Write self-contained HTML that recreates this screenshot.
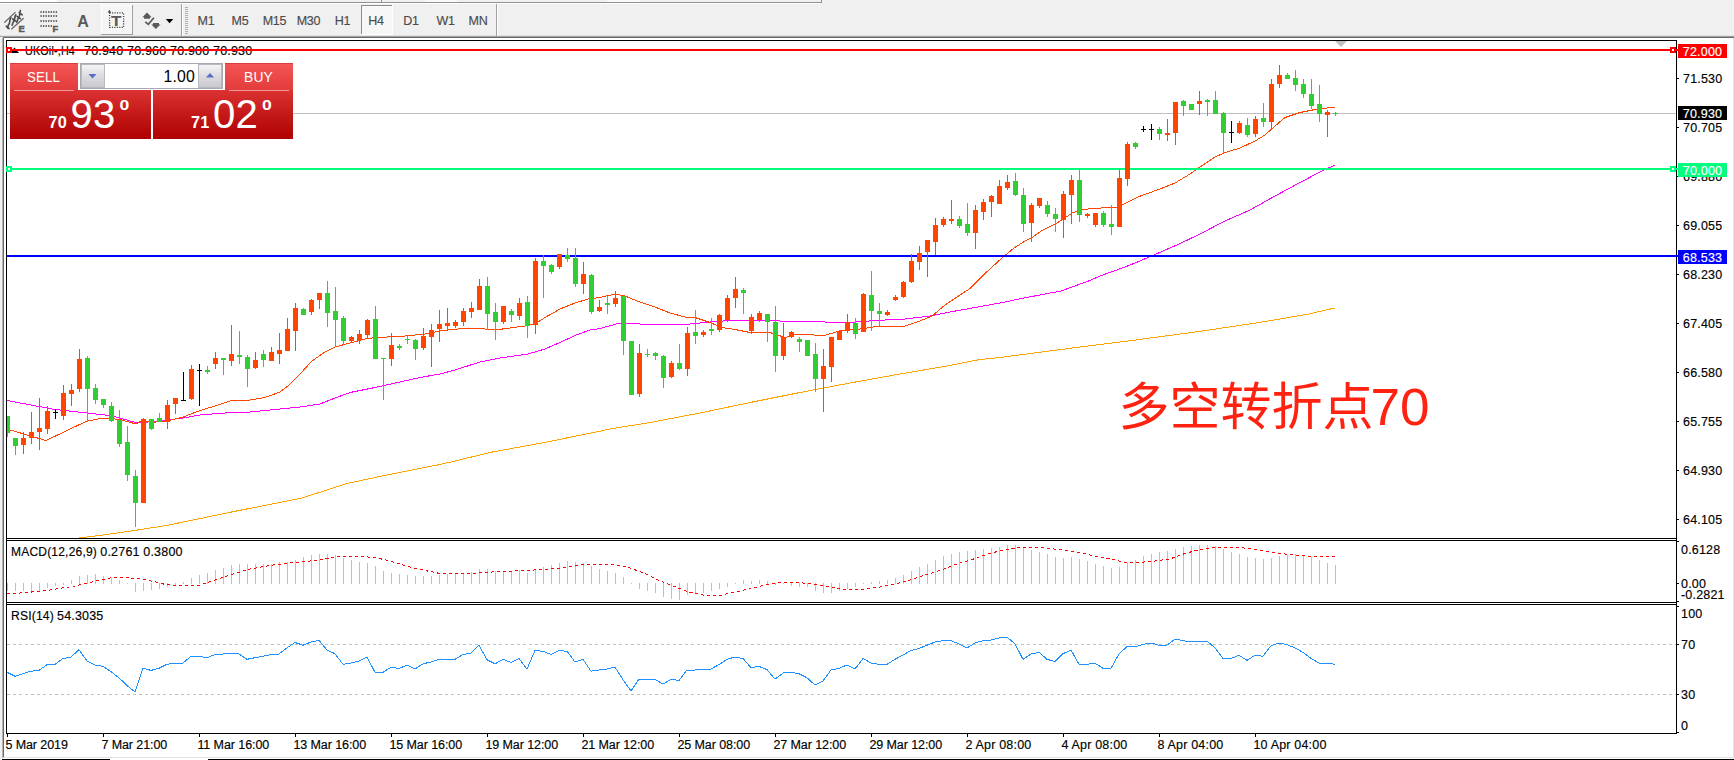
<!DOCTYPE html>
<html lang="zh"><head><meta charset="utf-8"><title>UKOil-,H4</title>
<style>
html,body{margin:0;padding:0;background:#f0f0f0;}
body{width:1734px;height:760px;overflow:hidden;position:relative;}
svg{position:absolute;left:0;top:0;display:block;}
text{font-family:"Liberation Sans","Noto Sans CJK SC",sans-serif;font-size:12.5px;letter-spacing:0.19px;fill:#000;}
.ax,.ct{font-size:12.5px;stroke:#000;stroke-width:0.15px;}
.w{fill:#fff;stroke:#fff;stroke-width:0.15px;}
.tf{fill:#4a4a4a;stroke:#4a4a4a;stroke-width:0.15px;font-size:12.5px;letter-spacing:-0.25px;}
.cn{font-family:"Liberation Sans","Noto Sans CJK SC",sans-serif;font-size:51px;fill:#ff2211;font-weight:400;letter-spacing:0;}
</style></head><body>
<svg width="1734" height="760" viewBox="0 0 1734 760">
<defs>
<linearGradient id="gTab" x1="0" y1="0" x2="0" y2="1"><stop offset="0" stop-color="#f65656"/><stop offset="1" stop-color="#e23a3a"/></linearGradient>
<linearGradient id="gPrc" x1="0" y1="0" x2="0" y2="1"><stop offset="0" stop-color="#dc3232"/><stop offset="1" stop-color="#ae0000"/></linearGradient>
<linearGradient id="gBtn" x1="0" y1="0" x2="0" y2="1"><stop offset="0" stop-color="#f4f4f6"/><stop offset="0.5" stop-color="#dcdce0"/><stop offset="1" stop-color="#c9c9cf"/></linearGradient>
<clipPath id="cm"><rect x="7" y="41" width="1669" height="497"/></clipPath>
</defs>
<g shape-rendering="crispEdges">
<rect x="0" y="0" width="1734" height="760" fill="#f0f0f0"/>
<rect x="0" y="0" width="57" height="2" fill="#ffffff"/>
<rect x="425" y="0" width="32" height="2" fill="#fafafa"/>
<rect x="607" y="0" width="33" height="2" fill="#fafafa"/>
<rect x="0" y="2" width="822" height="1" fill="#909090"/>
<rect x="821" y="0" width="1" height="3" fill="#909090"/>
<rect x="381" y="0" width="1" height="2" fill="#909090"/>
<rect x="0" y="3" width="821" height="1" fill="#ffffff"/>
<rect x="0" y="35" width="1734" height="1" fill="#e3e3e3"/>
<rect x="0" y="36" width="1734" height="1" fill="#a0a0a0"/>
<rect x="3" y="37" width="1731" height="1" fill="#696969"/>
<rect x="4" y="38" width="1729" height="719" fill="#ffffff"/>
<rect x="3" y="37" width="1" height="721" fill="#696969"/>
<rect x="0" y="37" width="3" height="723" fill="#f0f0f0"/>
<rect x="2" y="38" width="1" height="720" fill="#b4b4b4"/>
<rect x="1733" y="38" width="1" height="720" fill="#e3e3e3"/>
<rect x="3" y="757" width="1731" height="1" fill="#e3e3e3"/>
<rect x="3" y="758" width="1731" height="1" fill="#ffffff"/>
<rect x="2" y="759" width="1732" height="1" fill="#000000"/>
<rect x="110" y="759" width="98" height="1" fill="#ffffff"/>
<g stroke="#6a6a6a" stroke-width="1.3" fill="none" shape-rendering="geometricPrecision" stroke-linecap="round"><path d="M4.7 22.3 L15.2 12.4 M11.6 28.9 L23.3 18.4"/></g>
<g stroke="#4a4a4a" stroke-width="1.6" fill="none" shape-rendering="geometricPrecision" stroke-linecap="round"><path d="M10.9 17.6 C9 20.5 10.6 22.5 8.6 24.6 C7.6 25.8 8.4 27 7.8 28.2 M15.8 14.8 C14 17.6 15.4 19.4 13.6 21.6 C12.4 23 13 24 12 25.2 M20.4 10.6 C19.4 13.4 20.4 15.6 18.6 17.8 C17.2 19.6 17.6 20.8 16.6 22.4 M19.2 12.6 L22.2 14.8 M6.2 26.2 L9 28.6 M12.6 19 L15.4 21 M17 16.4 L20.4 18.6"/></g>
<text x="18.6" y="31.8" style="font-size:9.3px;font-weight:bold;fill:#5a5a5a;stroke:#5a5a5a;stroke-width:0.5px">E</text>
<line x1="40.4" y1="12" x2="58" y2="12" stroke="#6a6a6a" stroke-width="2" stroke-dasharray="1.4 1.15" shape-rendering="geometricPrecision"/>
<line x1="40.4" y1="16" x2="58" y2="16" stroke="#6a6a6a" stroke-width="2" stroke-dasharray="1.4 1.15" shape-rendering="geometricPrecision"/>
<line x1="40.4" y1="21" x2="58" y2="21" stroke="#6a6a6a" stroke-width="2" stroke-dasharray="1.4 1.15" shape-rendering="geometricPrecision"/>
<line x1="40.4" y1="26" x2="52.5" y2="26" stroke="#6a6a6a" stroke-width="2" stroke-dasharray="1.4 1.15" shape-rendering="geometricPrecision"/>
<text x="52.6" y="31.8" style="font-size:9.3px;font-weight:bold;fill:#5a5a5a;stroke:#5a5a5a;stroke-width:0.5px">F</text>
<text x="77.3" y="26.6" style="font-size:16px;font-weight:bold;fill:#5a5a5a">A</text>
<rect x="101" y="5" width="32" height="30" fill="#f5f5f5"/>
<rect x="101" y="5" width="32" height="1" fill="#ffffff"/>
<rect x="101" y="5" width="1" height="30" fill="#ffffff"/>
<rect x="101" y="34" width="32" height="1" fill="#a0a0a0"/>
<rect x="132" y="5" width="1" height="30" fill="#a0a0a0"/>
<rect x="109.6" y="12.8" width="14" height="14.6" fill="none" stroke="#3c3c3c" stroke-width="1.3" stroke-dasharray="1.1 1.35" shape-rendering="geometricPrecision"/>
<path d="M107.6 12.6 L109.4 10.1 L111.2 12.6 Z" fill="#3c3c3c" shape-rendering="geometricPrecision"/>
<text transform="translate(111.1 25.6) scale(1.2 1)" x="0" y="0" style="font-size:14.3px;font-weight:bold;fill:#5a5a5a">T</text>
<g fill="#5a5a5a" shape-rendering="geometricPrecision"><path d="M147 12.4 L151.6 17.3 L150 17.3 L150 18.7 L144 18.7 L144 17.3 L142.4 17.3 Z"/><path d="M155.8 29.1 L151.3 24.5 L153 24.5 L153 23.1 L159 23.1 L159 24.5 L160.6 24.5 Z"/><path d="M145.3 21.8 L148.3 24.4 L153.9 17.8" fill="none" stroke="#5a5a5a" stroke-width="1.7"/></g>
<path d="M165.8 19 L173.3 19 L169.55 23.2 Z" fill="#000" shape-rendering="geometricPrecision"/>
<rect x="181" y="4" width="1" height="32" fill="#a0a0a0"/>
<rect x="182" y="4" width="1" height="32" fill="#ffffff"/>
<rect x="185" y="7" width="3" height="1" fill="#b0b0b0"/>
<rect x="185" y="9" width="3" height="1" fill="#b0b0b0"/>
<rect x="185" y="11" width="3" height="1" fill="#b0b0b0"/>
<rect x="185" y="13" width="3" height="1" fill="#b0b0b0"/>
<rect x="185" y="15" width="3" height="1" fill="#b0b0b0"/>
<rect x="185" y="17" width="3" height="1" fill="#b0b0b0"/>
<rect x="185" y="19" width="3" height="1" fill="#b0b0b0"/>
<rect x="185" y="21" width="3" height="1" fill="#b0b0b0"/>
<rect x="185" y="23" width="3" height="1" fill="#b0b0b0"/>
<rect x="185" y="25" width="3" height="1" fill="#b0b0b0"/>
<rect x="185" y="27" width="3" height="1" fill="#b0b0b0"/>
<rect x="185" y="29" width="3" height="1" fill="#b0b0b0"/>
<rect x="185" y="31" width="3" height="1" fill="#b0b0b0"/>
<rect x="185" y="33" width="3" height="1" fill="#b0b0b0"/>
<rect x="361" y="5" width="32" height="30" fill="#f7f7f7"/>
<rect x="361" y="5" width="32" height="1" fill="#8c8c8c"/>
<rect x="361" y="5" width="1" height="29" fill="#8c8c8c"/>
<rect x="361" y="34" width="32" height="1" fill="#ffffff"/>
<rect x="392" y="5" width="1" height="30" fill="#ffffff"/>
<rect x="496" y="4" width="1" height="32" fill="#a0a0a0"/>
<rect x="497" y="4" width="1" height="32" fill="#ffffff"/>
</g>
<text class="tf" x="206" y="25.2" text-anchor="middle">M1</text>
<text class="tf" x="240" y="25.2" text-anchor="middle">M5</text>
<text class="tf" x="274.5" y="25.2" text-anchor="middle">M15</text>
<text class="tf" x="308.5" y="25.2" text-anchor="middle">M30</text>
<text class="tf" x="342.5" y="25.2" text-anchor="middle">H1</text>
<text class="tf" x="376" y="25.2" text-anchor="middle">H4</text>
<text class="tf" x="411" y="25.2" text-anchor="middle">D1</text>
<text class="tf" x="445.5" y="25.2" text-anchor="middle">W1</text>
<text class="tf" x="478" y="25.2" text-anchor="middle">MN</text>
<g shape-rendering="crispEdges">
<rect x="6.5" y="40.5" width="1670" height="498" fill="none" stroke="#000" stroke-width="1"/>
<rect x="6.5" y="540.5" width="1670" height="62" fill="none" stroke="#000" stroke-width="1"/>
<rect x="6.5" y="604.5" width="1670" height="129" fill="none" stroke="#000" stroke-width="1"/>
<rect x="6" y="538" width="1" height="3" fill="#000"/>
<rect x="6" y="602" width="1" height="3" fill="#000"/>
<rect x="1676" y="538" width="1" height="3" fill="#000"/>
<rect x="1676" y="602" width="1" height="3" fill="#000"/>
<rect x="7" y="113" width="1669" height="1" fill="#c0c0c0"/>
</g>
<text class="ct" x="25" y="55" textLength="50" lengthAdjust="spacingAndGlyphs">UKOil-,H4</text>
<text class="ct" x="84" y="55">70.940</text>
<text class="ct" x="127" y="55">70.960</text>
<text class="ct" x="170" y="55">70.900</text>
<text class="ct" x="213" y="55">70.930</text>
<g shape-rendering="crispEdges" clip-path="url(#cm)">
<polyline points="77,538.3 107.5,534.4 135,530.4 167,525.4 233,511.7 302,498 347,483.5 382,476 440.6,464.4 492.5,452 544,442.6 596,432 610,429 650,422.5 700,413 750,402.5 800,392.5 850,383 900,374 950,365.5 980,359.5 1000,357.5 1067.7,348.6 1133.4,340.3 1199,331.5 1265,321.6 1308.7,314 1335,308" fill="none" stroke="#FFA500" stroke-width="1"/>
<polyline points="7,400.5 55,409.5 87,413 110,415.5 125,419.5 137,423 148,422 164,420.3 183,418 200,415 225,413 250,412 275,409.5 300,407 320,404 335,398 350,392.5 375,387.5 400,382 420,377.5 440,374 455,370 480,362 500,358 528,354 545,349 560,342.5 575,335.5 590,330 600,328.5 620,323 640,324 665,324 690,324 710,322 730,320.5 760,320.5 800,321.5 850,322.5 875,320.5 905,319 930,316 950,312 975,307.5 1000,303 1024,298 1061,291 1090,280.5 1100,276 1125,267 1140,261 1178,244.5 1200,234 1225,221 1250,210 1275,196 1300,182.5 1320,172 1335,165" fill="none" stroke="#FF00FF" stroke-width="1"/>
<polyline points="7,429 46,440.5 87,421 104,418 120,419.5 136,424 143,420 151,422.5 167,421 183,417 200,410.5 215,406 230,401 250,400 265,397.5 280,392 288,386 300,374 312,361 325,352 335,347 350,343 365,339 375,337.5 400,336.5 425,334 440,331 450,329.5 475,328 495,330 510,328 525,326 535,324 545,317.5 560,309 575,303 588,299 600,297.5 615,294 625,296 637,301 655,307 670,313 685,317 695,317.5 710,322.5 722,327.5 735,329.5 750,332.5 770,332.5 785,337.5 795,334.5 805,334 822,336 840,331 860,329 880,326 905,326 920,321 932,316 945,305 957,297 970,288.5 985,273.5 1000,259.8 1013.7,248.2 1024.2,241.6 1032,237.6 1041.3,231 1055.8,223.8 1072.9,212.6 1082.1,210 1091.3,208.4 1116.3,207.4 1121.6,205.4 1140,196.2 1160,189 1175,183 1190,174 1200,167 1215,157 1225,152.5 1240,148 1255,141 1265,135 1275,126 1285,117.5 1300,112.5 1315,109.5 1335,107" fill="none" stroke="#FF4500" stroke-width="1"/>
</g>
<g shape-rendering="crispEdges">
<path d="M10 53 L14.5 47.6 L19 53 Z" fill="#000" shape-rendering="geometricPrecision"/>
<rect x="7" y="49" width="1671" height="2" fill="#FF0000"/>
<rect x="6" y="47" width="6" height="6" fill="#FF0000"/>
<rect x="8" y="49" width="2" height="2" fill="#ffffff"/>
<rect x="1670" y="47" width="6" height="6" fill="#FF0000"/>
<rect x="1672" y="49" width="2" height="2" fill="#ffffff"/>
<rect x="7" y="168" width="1671" height="2" fill="#00FF7F"/>
<rect x="6" y="166" width="6" height="6" fill="#00FF7F"/>
<rect x="8" y="168" width="2" height="2" fill="#ffffff"/>
<rect x="1670" y="166" width="6" height="6" fill="#00FF7F"/>
<rect x="1672" y="168" width="2" height="2" fill="#ffffff"/>
<rect x="7" y="255" width="1671" height="2" fill="#0000FF"/>
<g shape-rendering="crispEdges" clip-path="url(#cm)">
<rect x="7" y="416" width="1" height="21" fill="#32CD32"/>
<rect x="5" y="416" width="5" height="17" fill="#32CD32"/>
<rect x="15" y="438" width="1" height="17" fill="#32CD32"/>
<rect x="13" y="438" width="5" height="8" fill="#32CD32"/>
<rect x="23" y="432" width="1" height="22" fill="#FF4500"/>
<rect x="21" y="438" width="5" height="7" fill="#FF4500"/>
<rect x="31" y="412" width="1" height="32" fill="#FF4500"/>
<rect x="29" y="432" width="5" height="6" fill="#FF4500"/>
<rect x="39" y="398" width="1" height="52" fill="#FF4500"/>
<rect x="37" y="428" width="5" height="4" fill="#FF4500"/>
<rect x="47" y="406" width="1" height="28" fill="#FF4500"/>
<rect x="45" y="411" width="5" height="18" fill="#FF4500"/>
<rect x="55" y="409" width="1" height="10" fill="#000000"/>
<rect x="53" y="412" width="5" height="1" fill="#000000"/>
<rect x="63" y="385" width="1" height="35" fill="#FF4500"/>
<rect x="61" y="393" width="5" height="23" fill="#FF4500"/>
<rect x="71" y="384" width="1" height="22" fill="#FF4500"/>
<rect x="69" y="390" width="5" height="4" fill="#FF4500"/>
<rect x="79" y="349" width="1" height="43" fill="#FF4500"/>
<rect x="77" y="359" width="5" height="30" fill="#FF4500"/>
<rect x="87" y="356" width="1" height="66" fill="#32CD32"/>
<rect x="85" y="358" width="5" height="31" fill="#32CD32"/>
<rect x="95" y="384" width="1" height="20" fill="#32CD32"/>
<rect x="93" y="388" width="5" height="12" fill="#32CD32"/>
<rect x="103" y="399" width="1" height="9" fill="#32CD32"/>
<rect x="101" y="399" width="5" height="6" fill="#32CD32"/>
<rect x="111" y="402" width="1" height="20" fill="#32CD32"/>
<rect x="109" y="406" width="5" height="15" fill="#32CD32"/>
<rect x="119" y="410" width="1" height="37" fill="#32CD32"/>
<rect x="117" y="420" width="5" height="24" fill="#32CD32"/>
<rect x="127" y="426" width="1" height="55" fill="#32CD32"/>
<rect x="125" y="442" width="5" height="33" fill="#32CD32"/>
<rect x="135" y="470" width="1" height="57" fill="#32CD32"/>
<rect x="133" y="476" width="5" height="27" fill="#32CD32"/>
<rect x="143" y="418" width="1" height="85" fill="#FF4500"/>
<rect x="141" y="419" width="5" height="84" fill="#FF4500"/>
<rect x="151" y="419" width="1" height="11" fill="#32CD32"/>
<rect x="149" y="419" width="5" height="10" fill="#32CD32"/>
<rect x="159" y="413" width="1" height="9" fill="#32CD32"/>
<rect x="157" y="418" width="5" height="4" fill="#32CD32"/>
<rect x="167" y="400" width="1" height="29" fill="#FF4500"/>
<rect x="165" y="405" width="5" height="17" fill="#FF4500"/>
<rect x="175" y="398" width="1" height="16" fill="#FF4500"/>
<rect x="173" y="398" width="5" height="6" fill="#FF4500"/>
<rect x="183" y="372" width="1" height="28" fill="#000000"/>
<rect x="181" y="400" width="5" height="1" fill="#000000"/>
<rect x="191" y="365" width="1" height="35" fill="#FF4500"/>
<rect x="189" y="369" width="5" height="30" fill="#FF4500"/>
<rect x="199" y="364" width="1" height="42" fill="#000000"/>
<rect x="197" y="370" width="5" height="1" fill="#000000"/>
<rect x="207" y="366" width="1" height="8" fill="#32CD32"/>
<rect x="205" y="370" width="5" height="2" fill="#32CD32"/>
<rect x="215" y="352" width="1" height="17" fill="#FF4500"/>
<rect x="213" y="358" width="5" height="6" fill="#FF4500"/>
<rect x="223" y="358" width="1" height="17" fill="#32CD32"/>
<rect x="221" y="358" width="5" height="2" fill="#32CD32"/>
<rect x="231" y="325" width="1" height="41" fill="#FF4500"/>
<rect x="229" y="354" width="5" height="7" fill="#FF4500"/>
<rect x="239" y="331" width="1" height="33" fill="#32CD32"/>
<rect x="237" y="355" width="5" height="2" fill="#32CD32"/>
<rect x="247" y="355" width="1" height="32" fill="#32CD32"/>
<rect x="245" y="357" width="5" height="12" fill="#32CD32"/>
<rect x="255" y="352" width="1" height="17" fill="#FF4500"/>
<rect x="253" y="360" width="5" height="8" fill="#FF4500"/>
<rect x="263" y="350" width="1" height="17" fill="#32CD32"/>
<rect x="261" y="354" width="5" height="6" fill="#32CD32"/>
<rect x="271" y="347" width="1" height="14" fill="#FF4500"/>
<rect x="269" y="352" width="5" height="9" fill="#FF4500"/>
<rect x="279" y="333" width="1" height="31" fill="#FF4500"/>
<rect x="277" y="350" width="5" height="4" fill="#FF4500"/>
<rect x="287" y="318" width="1" height="33" fill="#FF4500"/>
<rect x="285" y="329" width="5" height="22" fill="#FF4500"/>
<rect x="295" y="303" width="1" height="48" fill="#FF4500"/>
<rect x="293" y="308" width="5" height="23" fill="#FF4500"/>
<rect x="303" y="308" width="1" height="7" fill="#32CD32"/>
<rect x="301" y="309" width="5" height="6" fill="#32CD32"/>
<rect x="311" y="299" width="1" height="16" fill="#FF4500"/>
<rect x="309" y="300" width="5" height="12" fill="#FF4500"/>
<rect x="319" y="293" width="1" height="16" fill="#FF4500"/>
<rect x="317" y="293" width="5" height="7" fill="#FF4500"/>
<rect x="327" y="281" width="1" height="46" fill="#32CD32"/>
<rect x="325" y="293" width="5" height="20" fill="#32CD32"/>
<rect x="335" y="287" width="1" height="60" fill="#32CD32"/>
<rect x="333" y="311" width="5" height="9" fill="#32CD32"/>
<rect x="343" y="316" width="1" height="29" fill="#32CD32"/>
<rect x="341" y="318" width="5" height="23" fill="#32CD32"/>
<rect x="351" y="336" width="1" height="6" fill="#FF4500"/>
<rect x="349" y="337" width="5" height="4" fill="#FF4500"/>
<rect x="359" y="330" width="1" height="14" fill="#FF4500"/>
<rect x="357" y="334" width="5" height="6" fill="#FF4500"/>
<rect x="367" y="319" width="1" height="19" fill="#FF4500"/>
<rect x="365" y="320" width="5" height="15" fill="#FF4500"/>
<rect x="375" y="306" width="1" height="53" fill="#32CD32"/>
<rect x="373" y="319" width="5" height="40" fill="#32CD32"/>
<rect x="383" y="358" width="1" height="42" fill="#32CD32"/>
<rect x="381" y="358" width="5" height="1" fill="#32CD32"/>
<rect x="391" y="333" width="1" height="33" fill="#FF4500"/>
<rect x="389" y="345" width="5" height="14" fill="#FF4500"/>
<rect x="399" y="344" width="1" height="6" fill="#32CD32"/>
<rect x="397" y="346" width="5" height="2" fill="#32CD32"/>
<rect x="407" y="336" width="1" height="8" fill="#32CD32"/>
<rect x="405" y="339" width="5" height="1" fill="#32CD32"/>
<rect x="415" y="339" width="1" height="21" fill="#32CD32"/>
<rect x="413" y="340" width="5" height="9" fill="#32CD32"/>
<rect x="423" y="328" width="1" height="22" fill="#FF4500"/>
<rect x="421" y="336" width="5" height="12" fill="#FF4500"/>
<rect x="431" y="324" width="1" height="43" fill="#FF4500"/>
<rect x="429" y="330" width="5" height="7" fill="#FF4500"/>
<rect x="439" y="310" width="1" height="32" fill="#FF4500"/>
<rect x="437" y="324" width="5" height="5" fill="#FF4500"/>
<rect x="447" y="308" width="1" height="23" fill="#FF4500"/>
<rect x="445" y="323" width="5" height="3" fill="#FF4500"/>
<rect x="455" y="320" width="1" height="8" fill="#FF4500"/>
<rect x="453" y="322" width="5" height="4" fill="#FF4500"/>
<rect x="463" y="308" width="1" height="18" fill="#FF4500"/>
<rect x="461" y="311" width="5" height="11" fill="#FF4500"/>
<rect x="471" y="302" width="1" height="16" fill="#FF4500"/>
<rect x="469" y="308" width="5" height="4" fill="#FF4500"/>
<rect x="479" y="279" width="1" height="31" fill="#FF4500"/>
<rect x="477" y="286" width="5" height="24" fill="#FF4500"/>
<rect x="487" y="277" width="1" height="53" fill="#32CD32"/>
<rect x="485" y="286" width="5" height="28" fill="#32CD32"/>
<rect x="495" y="303" width="1" height="37" fill="#32CD32"/>
<rect x="493" y="312" width="5" height="10" fill="#32CD32"/>
<rect x="503" y="306" width="1" height="18" fill="#FF4500"/>
<rect x="501" y="306" width="5" height="16" fill="#FF4500"/>
<rect x="511" y="309" width="1" height="13" fill="#32CD32"/>
<rect x="509" y="311" width="5" height="4" fill="#32CD32"/>
<rect x="519" y="298" width="1" height="22" fill="#FF4500"/>
<rect x="517" y="303" width="5" height="13" fill="#FF4500"/>
<rect x="527" y="296" width="1" height="42" fill="#32CD32"/>
<rect x="525" y="302" width="5" height="24" fill="#32CD32"/>
<rect x="535" y="258" width="1" height="76" fill="#FF4500"/>
<rect x="533" y="261" width="5" height="64" fill="#FF4500"/>
<rect x="543" y="255" width="1" height="43" fill="#32CD32"/>
<rect x="541" y="261" width="5" height="5" fill="#32CD32"/>
<rect x="551" y="264" width="1" height="10" fill="#32CD32"/>
<rect x="549" y="265" width="5" height="7" fill="#32CD32"/>
<rect x="559" y="254" width="1" height="15" fill="#FF4500"/>
<rect x="557" y="254" width="5" height="13" fill="#FF4500"/>
<rect x="567" y="248" width="1" height="14" fill="#32CD32"/>
<rect x="565" y="255" width="5" height="4" fill="#32CD32"/>
<rect x="575" y="248" width="1" height="39" fill="#32CD32"/>
<rect x="573" y="258" width="5" height="26" fill="#32CD32"/>
<rect x="583" y="262" width="1" height="32" fill="#FF4500"/>
<rect x="581" y="274" width="5" height="10" fill="#FF4500"/>
<rect x="591" y="274" width="1" height="40" fill="#32CD32"/>
<rect x="589" y="275" width="5" height="37" fill="#32CD32"/>
<rect x="599" y="300" width="1" height="12" fill="#FF4500"/>
<rect x="597" y="307" width="5" height="4" fill="#FF4500"/>
<rect x="607" y="296" width="1" height="18" fill="#32CD32"/>
<rect x="605" y="303" width="5" height="2" fill="#32CD32"/>
<rect x="615" y="291" width="1" height="16" fill="#FF4500"/>
<rect x="613" y="298" width="5" height="6" fill="#FF4500"/>
<rect x="623" y="296" width="1" height="59" fill="#32CD32"/>
<rect x="621" y="296" width="5" height="45" fill="#32CD32"/>
<rect x="631" y="341" width="1" height="54" fill="#32CD32"/>
<rect x="629" y="341" width="5" height="54" fill="#32CD32"/>
<rect x="639" y="344" width="1" height="53" fill="#FF4500"/>
<rect x="637" y="353" width="5" height="41" fill="#FF4500"/>
<rect x="647" y="349" width="1" height="8" fill="#32CD32"/>
<rect x="645" y="354" width="5" height="1" fill="#32CD32"/>
<rect x="655" y="352" width="1" height="8" fill="#32CD32"/>
<rect x="653" y="353" width="5" height="3" fill="#32CD32"/>
<rect x="663" y="355" width="1" height="33" fill="#32CD32"/>
<rect x="661" y="356" width="5" height="22" fill="#32CD32"/>
<rect x="671" y="361" width="1" height="17" fill="#FF4500"/>
<rect x="669" y="363" width="5" height="14" fill="#FF4500"/>
<rect x="679" y="344" width="1" height="26" fill="#32CD32"/>
<rect x="677" y="363" width="5" height="6" fill="#32CD32"/>
<rect x="687" y="327" width="1" height="49" fill="#FF4500"/>
<rect x="685" y="333" width="5" height="36" fill="#FF4500"/>
<rect x="695" y="310" width="1" height="34" fill="#32CD32"/>
<rect x="693" y="332" width="5" height="4" fill="#32CD32"/>
<rect x="703" y="330" width="1" height="7" fill="#FF4500"/>
<rect x="701" y="332" width="5" height="3" fill="#FF4500"/>
<rect x="711" y="318" width="1" height="17" fill="#32CD32"/>
<rect x="709" y="329" width="5" height="2" fill="#32CD32"/>
<rect x="719" y="314" width="1" height="18" fill="#FF4500"/>
<rect x="717" y="315" width="5" height="15" fill="#FF4500"/>
<rect x="727" y="295" width="1" height="27" fill="#FF4500"/>
<rect x="725" y="298" width="5" height="22" fill="#FF4500"/>
<rect x="735" y="277" width="1" height="31" fill="#FF4500"/>
<rect x="733" y="289" width="5" height="9" fill="#FF4500"/>
<rect x="743" y="288" width="1" height="26" fill="#32CD32"/>
<rect x="741" y="290" width="5" height="3" fill="#32CD32"/>
<rect x="751" y="314" width="1" height="20" fill="#FF4500"/>
<rect x="749" y="317" width="5" height="14" fill="#FF4500"/>
<rect x="759" y="311" width="1" height="11" fill="#FF4500"/>
<rect x="757" y="313" width="5" height="7" fill="#FF4500"/>
<rect x="767" y="314" width="1" height="28" fill="#32CD32"/>
<rect x="765" y="314" width="5" height="8" fill="#32CD32"/>
<rect x="775" y="306" width="1" height="66" fill="#32CD32"/>
<rect x="773" y="322" width="5" height="34" fill="#32CD32"/>
<rect x="783" y="323" width="1" height="37" fill="#FF4500"/>
<rect x="781" y="337" width="5" height="19" fill="#FF4500"/>
<rect x="791" y="331" width="1" height="7" fill="#FF4500"/>
<rect x="789" y="332" width="5" height="5" fill="#FF4500"/>
<rect x="799" y="337" width="1" height="15" fill="#32CD32"/>
<rect x="797" y="339" width="5" height="3" fill="#32CD32"/>
<rect x="807" y="340" width="1" height="16" fill="#32CD32"/>
<rect x="805" y="340" width="5" height="16" fill="#32CD32"/>
<rect x="815" y="343" width="1" height="49" fill="#32CD32"/>
<rect x="813" y="354" width="5" height="25" fill="#32CD32"/>
<rect x="823" y="349" width="1" height="63" fill="#FF4500"/>
<rect x="821" y="366" width="5" height="13" fill="#FF4500"/>
<rect x="831" y="337" width="1" height="45" fill="#FF4500"/>
<rect x="829" y="337" width="5" height="30" fill="#FF4500"/>
<rect x="839" y="330" width="1" height="10" fill="#FF4500"/>
<rect x="837" y="331" width="5" height="9" fill="#FF4500"/>
<rect x="847" y="314" width="1" height="19" fill="#FF4500"/>
<rect x="845" y="322" width="5" height="9" fill="#FF4500"/>
<rect x="855" y="318" width="1" height="21" fill="#32CD32"/>
<rect x="853" y="323" width="5" height="11" fill="#32CD32"/>
<rect x="863" y="293" width="1" height="39" fill="#FF4500"/>
<rect x="861" y="294" width="5" height="38" fill="#FF4500"/>
<rect x="871" y="271" width="1" height="60" fill="#32CD32"/>
<rect x="869" y="295" width="5" height="16" fill="#32CD32"/>
<rect x="879" y="303" width="1" height="23" fill="#32CD32"/>
<rect x="877" y="311" width="5" height="3" fill="#32CD32"/>
<rect x="887" y="310" width="1" height="6" fill="#FF4500"/>
<rect x="885" y="312" width="5" height="3" fill="#FF4500"/>
<rect x="895" y="295" width="1" height="6" fill="#FF4500"/>
<rect x="893" y="297" width="5" height="3" fill="#FF4500"/>
<rect x="903" y="281" width="1" height="17" fill="#FF4500"/>
<rect x="901" y="282" width="5" height="15" fill="#FF4500"/>
<rect x="911" y="254" width="1" height="29" fill="#FF4500"/>
<rect x="909" y="261" width="5" height="21" fill="#FF4500"/>
<rect x="919" y="246" width="1" height="24" fill="#FF4500"/>
<rect x="917" y="253" width="5" height="9" fill="#FF4500"/>
<rect x="927" y="240" width="1" height="37" fill="#FF4500"/>
<rect x="925" y="240" width="5" height="12" fill="#FF4500"/>
<rect x="935" y="218" width="1" height="37" fill="#FF4500"/>
<rect x="933" y="225" width="5" height="17" fill="#FF4500"/>
<rect x="943" y="217" width="1" height="10" fill="#FF4500"/>
<rect x="941" y="219" width="5" height="6" fill="#FF4500"/>
<rect x="951" y="200" width="1" height="24" fill="#FF4500"/>
<rect x="949" y="219" width="5" height="2" fill="#FF4500"/>
<rect x="959" y="216" width="1" height="12" fill="#32CD32"/>
<rect x="957" y="219" width="5" height="7" fill="#32CD32"/>
<rect x="967" y="203" width="1" height="33" fill="#32CD32"/>
<rect x="965" y="224" width="5" height="9" fill="#32CD32"/>
<rect x="975" y="205" width="1" height="44" fill="#FF4500"/>
<rect x="973" y="210" width="5" height="23" fill="#FF4500"/>
<rect x="983" y="199" width="1" height="21" fill="#FF4500"/>
<rect x="981" y="202" width="5" height="10" fill="#FF4500"/>
<rect x="991" y="195" width="1" height="22" fill="#FF4500"/>
<rect x="989" y="196" width="5" height="6" fill="#FF4500"/>
<rect x="999" y="180" width="1" height="24" fill="#FF4500"/>
<rect x="997" y="186" width="5" height="18" fill="#FF4500"/>
<rect x="1007" y="175" width="1" height="15" fill="#FF4500"/>
<rect x="1005" y="182" width="5" height="6" fill="#FF4500"/>
<rect x="1015" y="173" width="1" height="23" fill="#32CD32"/>
<rect x="1013" y="181" width="5" height="14" fill="#32CD32"/>
<rect x="1023" y="188" width="1" height="44" fill="#32CD32"/>
<rect x="1021" y="195" width="5" height="29" fill="#32CD32"/>
<rect x="1031" y="203" width="1" height="39" fill="#FF4500"/>
<rect x="1029" y="205" width="5" height="18" fill="#FF4500"/>
<rect x="1039" y="198" width="1" height="10" fill="#FF4500"/>
<rect x="1037" y="198" width="5" height="8" fill="#FF4500"/>
<rect x="1047" y="201" width="1" height="16" fill="#32CD32"/>
<rect x="1045" y="205" width="5" height="9" fill="#32CD32"/>
<rect x="1055" y="208" width="1" height="24" fill="#32CD32"/>
<rect x="1053" y="214" width="5" height="5" fill="#32CD32"/>
<rect x="1063" y="191" width="1" height="47" fill="#FF4500"/>
<rect x="1061" y="194" width="5" height="26" fill="#FF4500"/>
<rect x="1071" y="175" width="1" height="49" fill="#FF4500"/>
<rect x="1069" y="180" width="5" height="15" fill="#FF4500"/>
<rect x="1079" y="170" width="1" height="52" fill="#32CD32"/>
<rect x="1077" y="180" width="5" height="35" fill="#32CD32"/>
<rect x="1087" y="213" width="1" height="5" fill="#FF4500"/>
<rect x="1085" y="214" width="5" height="2" fill="#FF4500"/>
<rect x="1095" y="213" width="1" height="14" fill="#FF4500"/>
<rect x="1093" y="213" width="5" height="12" fill="#FF4500"/>
<rect x="1103" y="211" width="1" height="16" fill="#32CD32"/>
<rect x="1101" y="213" width="5" height="12" fill="#32CD32"/>
<rect x="1111" y="205" width="1" height="30" fill="#32CD32"/>
<rect x="1109" y="224" width="5" height="3" fill="#32CD32"/>
<rect x="1119" y="170" width="1" height="57" fill="#FF4500"/>
<rect x="1117" y="178" width="5" height="49" fill="#FF4500"/>
<rect x="1127" y="142" width="1" height="44" fill="#FF4500"/>
<rect x="1125" y="144" width="5" height="35" fill="#FF4500"/>
<rect x="1135" y="142" width="1" height="7" fill="#32CD32"/>
<rect x="1133" y="143" width="5" height="4" fill="#32CD32"/>
<rect x="1143" y="126" width="1" height="6" fill="#000000"/>
<rect x="1141" y="129" width="5" height="1" fill="#000000"/>
<rect x="1151" y="124" width="1" height="16" fill="#000000"/>
<rect x="1149" y="129" width="5" height="1" fill="#000000"/>
<rect x="1159" y="127" width="1" height="13" fill="#32CD32"/>
<rect x="1157" y="129" width="5" height="5" fill="#32CD32"/>
<rect x="1167" y="119" width="1" height="22" fill="#FF4500"/>
<rect x="1165" y="133" width="5" height="2" fill="#FF4500"/>
<rect x="1175" y="102" width="1" height="43" fill="#FF4500"/>
<rect x="1173" y="102" width="5" height="31" fill="#FF4500"/>
<rect x="1183" y="100" width="1" height="16" fill="#32CD32"/>
<rect x="1181" y="101" width="5" height="5" fill="#32CD32"/>
<rect x="1191" y="104" width="1" height="6" fill="#32CD32"/>
<rect x="1189" y="104" width="5" height="6" fill="#32CD32"/>
<rect x="1199" y="91" width="1" height="24" fill="#FF4500"/>
<rect x="1197" y="101" width="5" height="3" fill="#FF4500"/>
<rect x="1207" y="99" width="1" height="17" fill="#32CD32"/>
<rect x="1205" y="100" width="5" height="2" fill="#32CD32"/>
<rect x="1215" y="91" width="1" height="23" fill="#32CD32"/>
<rect x="1213" y="100" width="5" height="14" fill="#32CD32"/>
<rect x="1223" y="112" width="1" height="41" fill="#32CD32"/>
<rect x="1221" y="113" width="5" height="20" fill="#32CD32"/>
<rect x="1231" y="121" width="1" height="22" fill="#000000"/>
<rect x="1229" y="132" width="5" height="1" fill="#000000"/>
<rect x="1239" y="121" width="1" height="13" fill="#FF4500"/>
<rect x="1237" y="123" width="5" height="10" fill="#FF4500"/>
<rect x="1247" y="118" width="1" height="19" fill="#32CD32"/>
<rect x="1245" y="125" width="5" height="10" fill="#32CD32"/>
<rect x="1255" y="116" width="1" height="21" fill="#FF4500"/>
<rect x="1253" y="119" width="5" height="15" fill="#FF4500"/>
<rect x="1263" y="103" width="1" height="24" fill="#32CD32"/>
<rect x="1261" y="118" width="5" height="4" fill="#32CD32"/>
<rect x="1271" y="79" width="1" height="50" fill="#FF4500"/>
<rect x="1269" y="84" width="5" height="38" fill="#FF4500"/>
<rect x="1279" y="65" width="1" height="23" fill="#FF4500"/>
<rect x="1277" y="75" width="5" height="9" fill="#FF4500"/>
<rect x="1287" y="73" width="1" height="6" fill="#32CD32"/>
<rect x="1285" y="75" width="5" height="4" fill="#32CD32"/>
<rect x="1295" y="70" width="1" height="21" fill="#32CD32"/>
<rect x="1293" y="78" width="5" height="7" fill="#32CD32"/>
<rect x="1303" y="79" width="1" height="19" fill="#32CD32"/>
<rect x="1301" y="84" width="5" height="10" fill="#32CD32"/>
<rect x="1311" y="79" width="1" height="30" fill="#32CD32"/>
<rect x="1309" y="94" width="5" height="12" fill="#32CD32"/>
<rect x="1319" y="85" width="1" height="37" fill="#32CD32"/>
<rect x="1317" y="104" width="5" height="10" fill="#32CD32"/>
<rect x="1327" y="110" width="1" height="27" fill="#FF4500"/>
<rect x="1325" y="112" width="5" height="3" fill="#FF4500"/>
<rect x="1335" y="112" width="1" height="4" fill="#32CD32"/>
<rect x="1333" y="113" width="5" height="1" fill="#32CD32"/>
</g>
<path d="M1335 41 L1347 41 L1341 47 Z" fill="#c0c0c0" shape-rendering="geometricPrecision"/>
<rect x="7" y="583" width="1" height="8" fill="#C0C0C0"/>
<rect x="15" y="583" width="1" height="8" fill="#C0C0C0"/>
<rect x="23" y="583" width="1" height="8" fill="#C0C0C0"/>
<rect x="31" y="583" width="1" height="8" fill="#C0C0C0"/>
<rect x="39" y="583" width="1" height="8" fill="#C0C0C0"/>
<rect x="47" y="583" width="1" height="5" fill="#C0C0C0"/>
<rect x="55" y="583" width="1" height="3" fill="#C0C0C0"/>
<rect x="63" y="583" width="1" height="2" fill="#C0C0C0"/>
<rect x="71" y="580" width="1" height="4" fill="#C0C0C0"/>
<rect x="79" y="576" width="1" height="8" fill="#C0C0C0"/>
<rect x="87" y="575" width="1" height="9" fill="#C0C0C0"/>
<rect x="95" y="574" width="1" height="10" fill="#C0C0C0"/>
<rect x="103" y="576" width="1" height="8" fill="#C0C0C0"/>
<rect x="111" y="578" width="1" height="6" fill="#C0C0C0"/>
<rect x="119" y="580" width="1" height="4" fill="#C0C0C0"/>
<rect x="127" y="583" width="1" height="1" fill="#C0C0C0"/>
<rect x="135" y="583" width="1" height="9" fill="#C0C0C0"/>
<rect x="143" y="583" width="1" height="8" fill="#C0C0C0"/>
<rect x="151" y="583" width="1" height="7" fill="#C0C0C0"/>
<rect x="159" y="583" width="1" height="6" fill="#C0C0C0"/>
<rect x="167" y="583" width="1" height="4" fill="#C0C0C0"/>
<rect x="175" y="583" width="1" height="2" fill="#C0C0C0"/>
<rect x="183" y="582" width="1" height="2" fill="#C0C0C0"/>
<rect x="191" y="578" width="1" height="6" fill="#C0C0C0"/>
<rect x="199" y="575" width="1" height="9" fill="#C0C0C0"/>
<rect x="207" y="573" width="1" height="11" fill="#C0C0C0"/>
<rect x="215" y="570" width="1" height="14" fill="#C0C0C0"/>
<rect x="223" y="568" width="1" height="16" fill="#C0C0C0"/>
<rect x="231" y="565" width="1" height="19" fill="#C0C0C0"/>
<rect x="239" y="564" width="1" height="20" fill="#C0C0C0"/>
<rect x="247" y="564" width="1" height="20" fill="#C0C0C0"/>
<rect x="255" y="564" width="1" height="20" fill="#C0C0C0"/>
<rect x="263" y="564" width="1" height="20" fill="#C0C0C0"/>
<rect x="271" y="564" width="1" height="20" fill="#C0C0C0"/>
<rect x="279" y="562" width="1" height="22" fill="#C0C0C0"/>
<rect x="287" y="562" width="1" height="22" fill="#C0C0C0"/>
<rect x="295" y="560" width="1" height="24" fill="#C0C0C0"/>
<rect x="303" y="557" width="1" height="27" fill="#C0C0C0"/>
<rect x="311" y="555" width="1" height="29" fill="#C0C0C0"/>
<rect x="319" y="554" width="1" height="30" fill="#C0C0C0"/>
<rect x="327" y="554" width="1" height="30" fill="#C0C0C0"/>
<rect x="335" y="555" width="1" height="29" fill="#C0C0C0"/>
<rect x="343" y="558" width="1" height="26" fill="#C0C0C0"/>
<rect x="351" y="560" width="1" height="24" fill="#C0C0C0"/>
<rect x="359" y="562" width="1" height="22" fill="#C0C0C0"/>
<rect x="367" y="563" width="1" height="21" fill="#C0C0C0"/>
<rect x="375" y="566" width="1" height="18" fill="#C0C0C0"/>
<rect x="383" y="571" width="1" height="13" fill="#C0C0C0"/>
<rect x="391" y="573" width="1" height="11" fill="#C0C0C0"/>
<rect x="399" y="574" width="1" height="10" fill="#C0C0C0"/>
<rect x="407" y="575" width="1" height="9" fill="#C0C0C0"/>
<rect x="415" y="576" width="1" height="8" fill="#C0C0C0"/>
<rect x="423" y="576" width="1" height="8" fill="#C0C0C0"/>
<rect x="431" y="576" width="1" height="8" fill="#C0C0C0"/>
<rect x="439" y="575" width="1" height="9" fill="#C0C0C0"/>
<rect x="447" y="574" width="1" height="10" fill="#C0C0C0"/>
<rect x="455" y="574" width="1" height="10" fill="#C0C0C0"/>
<rect x="463" y="574" width="1" height="10" fill="#C0C0C0"/>
<rect x="471" y="572" width="1" height="12" fill="#C0C0C0"/>
<rect x="479" y="569" width="1" height="15" fill="#C0C0C0"/>
<rect x="487" y="569" width="1" height="15" fill="#C0C0C0"/>
<rect x="495" y="571" width="1" height="13" fill="#C0C0C0"/>
<rect x="503" y="571" width="1" height="13" fill="#C0C0C0"/>
<rect x="511" y="572" width="1" height="12" fill="#C0C0C0"/>
<rect x="519" y="570" width="1" height="14" fill="#C0C0C0"/>
<rect x="527" y="573" width="1" height="11" fill="#C0C0C0"/>
<rect x="535" y="570" width="1" height="14" fill="#C0C0C0"/>
<rect x="543" y="567" width="1" height="17" fill="#C0C0C0"/>
<rect x="551" y="565" width="1" height="19" fill="#C0C0C0"/>
<rect x="559" y="563" width="1" height="21" fill="#C0C0C0"/>
<rect x="567" y="561" width="1" height="23" fill="#C0C0C0"/>
<rect x="575" y="562" width="1" height="22" fill="#C0C0C0"/>
<rect x="583" y="563" width="1" height="21" fill="#C0C0C0"/>
<rect x="591" y="566" width="1" height="18" fill="#C0C0C0"/>
<rect x="599" y="569" width="1" height="15" fill="#C0C0C0"/>
<rect x="607" y="571" width="1" height="13" fill="#C0C0C0"/>
<rect x="615" y="573" width="1" height="11" fill="#C0C0C0"/>
<rect x="623" y="577" width="1" height="7" fill="#C0C0C0"/>
<rect x="631" y="583" width="1" height="1" fill="#C0C0C0"/>
<rect x="639" y="583" width="1" height="6" fill="#C0C0C0"/>
<rect x="647" y="583" width="1" height="8" fill="#C0C0C0"/>
<rect x="655" y="583" width="1" height="10" fill="#C0C0C0"/>
<rect x="663" y="583" width="1" height="14" fill="#C0C0C0"/>
<rect x="671" y="583" width="1" height="16" fill="#C0C0C0"/>
<rect x="679" y="583" width="1" height="17" fill="#C0C0C0"/>
<rect x="687" y="583" width="1" height="12" fill="#C0C0C0"/>
<rect x="695" y="583" width="1" height="11" fill="#C0C0C0"/>
<rect x="703" y="583" width="1" height="10" fill="#C0C0C0"/>
<rect x="711" y="583" width="1" height="8" fill="#C0C0C0"/>
<rect x="719" y="583" width="1" height="6" fill="#C0C0C0"/>
<rect x="727" y="583" width="1" height="4" fill="#C0C0C0"/>
<rect x="735" y="583" width="1" height="1" fill="#C0C0C0"/>
<rect x="743" y="580" width="1" height="4" fill="#C0C0C0"/>
<rect x="751" y="581" width="1" height="3" fill="#C0C0C0"/>
<rect x="759" y="580" width="1" height="4" fill="#C0C0C0"/>
<rect x="767" y="581" width="1" height="3" fill="#C0C0C0"/>
<rect x="775" y="583" width="1" height="2" fill="#C0C0C0"/>
<rect x="783" y="583" width="1" height="1" fill="#C0C0C0"/>
<rect x="791" y="583" width="1" height="3" fill="#C0C0C0"/>
<rect x="799" y="583" width="1" height="4" fill="#C0C0C0"/>
<rect x="807" y="583" width="1" height="4" fill="#C0C0C0"/>
<rect x="815" y="583" width="1" height="8" fill="#C0C0C0"/>
<rect x="823" y="583" width="1" height="10" fill="#C0C0C0"/>
<rect x="831" y="583" width="1" height="10" fill="#C0C0C0"/>
<rect x="839" y="583" width="1" height="8" fill="#C0C0C0"/>
<rect x="847" y="583" width="1" height="6" fill="#C0C0C0"/>
<rect x="855" y="583" width="1" height="4" fill="#C0C0C0"/>
<rect x="863" y="583" width="1" height="1" fill="#C0C0C0"/>
<rect x="871" y="582" width="1" height="2" fill="#C0C0C0"/>
<rect x="879" y="581" width="1" height="3" fill="#C0C0C0"/>
<rect x="887" y="580" width="1" height="4" fill="#C0C0C0"/>
<rect x="895" y="578" width="1" height="6" fill="#C0C0C0"/>
<rect x="903" y="575" width="1" height="9" fill="#C0C0C0"/>
<rect x="911" y="571" width="1" height="13" fill="#C0C0C0"/>
<rect x="919" y="567" width="1" height="17" fill="#C0C0C0"/>
<rect x="927" y="564" width="1" height="20" fill="#C0C0C0"/>
<rect x="935" y="560" width="1" height="24" fill="#C0C0C0"/>
<rect x="943" y="556" width="1" height="28" fill="#C0C0C0"/>
<rect x="951" y="554" width="1" height="30" fill="#C0C0C0"/>
<rect x="959" y="552" width="1" height="32" fill="#C0C0C0"/>
<rect x="967" y="551" width="1" height="33" fill="#C0C0C0"/>
<rect x="975" y="550" width="1" height="34" fill="#C0C0C0"/>
<rect x="983" y="549" width="1" height="35" fill="#C0C0C0"/>
<rect x="991" y="548" width="1" height="36" fill="#C0C0C0"/>
<rect x="999" y="547" width="1" height="37" fill="#C0C0C0"/>
<rect x="1007" y="545" width="1" height="39" fill="#C0C0C0"/>
<rect x="1015" y="545" width="1" height="39" fill="#C0C0C0"/>
<rect x="1023" y="548" width="1" height="36" fill="#C0C0C0"/>
<rect x="1031" y="550" width="1" height="34" fill="#C0C0C0"/>
<rect x="1039" y="552" width="1" height="32" fill="#C0C0C0"/>
<rect x="1047" y="554" width="1" height="30" fill="#C0C0C0"/>
<rect x="1055" y="557" width="1" height="27" fill="#C0C0C0"/>
<rect x="1063" y="558" width="1" height="26" fill="#C0C0C0"/>
<rect x="1071" y="557" width="1" height="27" fill="#C0C0C0"/>
<rect x="1079" y="559" width="1" height="25" fill="#C0C0C0"/>
<rect x="1087" y="561" width="1" height="23" fill="#C0C0C0"/>
<rect x="1095" y="564" width="1" height="20" fill="#C0C0C0"/>
<rect x="1103" y="566" width="1" height="18" fill="#C0C0C0"/>
<rect x="1111" y="568" width="1" height="16" fill="#C0C0C0"/>
<rect x="1119" y="567" width="1" height="17" fill="#C0C0C0"/>
<rect x="1127" y="563" width="1" height="21" fill="#C0C0C0"/>
<rect x="1135" y="560" width="1" height="24" fill="#C0C0C0"/>
<rect x="1143" y="556" width="1" height="28" fill="#C0C0C0"/>
<rect x="1151" y="554" width="1" height="30" fill="#C0C0C0"/>
<rect x="1159" y="552" width="1" height="32" fill="#C0C0C0"/>
<rect x="1167" y="551" width="1" height="33" fill="#C0C0C0"/>
<rect x="1175" y="549" width="1" height="35" fill="#C0C0C0"/>
<rect x="1183" y="547" width="1" height="37" fill="#C0C0C0"/>
<rect x="1191" y="546" width="1" height="38" fill="#C0C0C0"/>
<rect x="1199" y="545" width="1" height="39" fill="#C0C0C0"/>
<rect x="1207" y="545" width="1" height="39" fill="#C0C0C0"/>
<rect x="1215" y="546" width="1" height="38" fill="#C0C0C0"/>
<rect x="1223" y="549" width="1" height="35" fill="#C0C0C0"/>
<rect x="1231" y="552" width="1" height="32" fill="#C0C0C0"/>
<rect x="1239" y="554" width="1" height="30" fill="#C0C0C0"/>
<rect x="1247" y="557" width="1" height="27" fill="#C0C0C0"/>
<rect x="1255" y="558" width="1" height="26" fill="#C0C0C0"/>
<rect x="1263" y="559" width="1" height="25" fill="#C0C0C0"/>
<rect x="1271" y="558" width="1" height="26" fill="#C0C0C0"/>
<rect x="1279" y="556" width="1" height="28" fill="#C0C0C0"/>
<rect x="1287" y="555" width="1" height="29" fill="#C0C0C0"/>
<rect x="1295" y="554" width="1" height="30" fill="#C0C0C0"/>
<rect x="1303" y="556" width="1" height="28" fill="#C0C0C0"/>
<rect x="1311" y="557" width="1" height="27" fill="#C0C0C0"/>
<rect x="1319" y="560" width="1" height="24" fill="#C0C0C0"/>
<rect x="1327" y="563" width="1" height="21" fill="#C0C0C0"/>
<rect x="1335" y="565" width="1" height="19" fill="#C0C0C0"/>
<polyline points="7,594 27,592.5 50,590 75,586 87,583 110,578 125,577.3 140,579 155,581.7 165,584.4 185,586 200,585 215,580 230,575 250,569 275,564.6 300,562 320,560 335,557 355,556 375,557.5 390,561 400,564 415,568.5 430,571.5 440,573.5 470,574 485,572.3 510,571.2 540,569.7 560,568 580,565 595,564 615,564.6 630,568 645,573.5 660,581 675,586.7 690,592.5 705,595.4 720,595.4 735,592 750,588.8 765,585 780,582.7 800,582.7 815,584.4 830,586.7 845,589.3 865,589.3 880,587 895,584 910,580 925,575 940,570.5 955,564.6 970,560.2 985,555 1000,550.7 1015,548 1040,547.5 1060,549.7 1075,551.6 1090,555 1105,557.8 1125,562.4 1140,562.4 1155,561 1170,558.9 1185,553.5 1200,549.4 1215,547.5 1240,547.5 1260,550.2 1275,553 1295,555 1310,556.4 1335,557" fill="none" stroke="#FF0000" stroke-width="1" stroke-dasharray="3 3"/>
<rect x="7" y="644" width="1669" height="1" fill="#ffffff"/>
<line x1="7" y1="644.5" x2="1676" y2="644.5" stroke="#C0C0C0" stroke-width="1" stroke-dasharray="3 3"/>
<line x1="7" y1="694.5" x2="1676" y2="694.5" stroke="#C0C0C0" stroke-width="1" stroke-dasharray="3 3"/>
<polyline points="7,672.3 15,676.2 23,673.6 31,671.2 39,670.4 47,664.6 55,664.3 63,658.5 71,657 79,649.7 87,661 95,665 103,666.4 111,671.7 119,677.8 127,685.5 135,692 143,668.3 151,670.4 159,668.3 167,664.3 175,663 183,663 191,656.3 199,656.3 207,657.7 215,654.5 223,654 231,653 239,654 247,659.3 255,657.7 263,656.3 271,654.5 279,654 287,647.9 295,642.5 303,645.2 311,642 319,640.4 327,650 335,653.7 343,664.3 351,663 359,661 367,657 375,672.3 383,672.3 391,667.2 399,668.5 407,665 415,669 423,663.8 431,662 439,659.3 447,659.3 455,659.3 463,654.5 471,653.2 479,645.2 487,659.8 495,663.8 503,659.3 511,662.4 519,658.5 527,669 535,650.5 543,651.3 551,654.5 559,650.5 567,651.3 575,662 583,659.3 591,671.2 599,670 607,669 615,667.2 623,679.7 631,691 639,679.2 647,679.2 655,679.2 663,684.2 671,679.2 679,680.5 687,670 695,670 703,669 711,669 719,664.6 727,659.3 735,657 743,658.5 751,667.7 759,666.4 767,669.6 775,679.2 783,673 791,672.3 799,673.8 807,677.8 815,685 823,681 831,670 839,668.3 847,665 855,669 863,658.5 871,663 879,664.3 887,664.3 895,659.3 903,655 911,650.5 919,648.4 927,645.2 935,642 943,640.7 951,640.7 959,643.9 967,647.9 975,643 983,640.7 991,640 999,638 1007,637.2 1015,643.9 1023,659.3 1031,654 1039,652.4 1047,659.3 1055,661.6 1063,653.7 1071,650 1079,664.3 1087,664.3 1095,663.2 1103,668.3 1111,668.3 1119,654 1127,646.5 1135,647 1143,644.4 1151,643 1159,645.2 1167,645.2 1175,639 1183,640.7 1191,642 1199,641.2 1207,641.2 1215,647.9 1223,658.5 1231,658.5 1239,655.3 1247,660.3 1255,655.3 1263,656.3 1271,645.7 1279,643 1287,644.7 1295,647.9 1303,652.4 1311,658.5 1319,663 1327,663 1335,664.3" fill="none" stroke="#1E90FF" stroke-width="1"/>
</g>
<text class="ct" x="11" y="556" textLength="86" lengthAdjust="spacingAndGlyphs">MACD(12,26,9)</text>
<text class="ct" x="100.3" y="556">0.2761</text><text class="ct" x="143.3" y="556">0.3800</text>
<text class="ct" x="11" y="620" textLength="43" lengthAdjust="spacingAndGlyphs">RSI(14)</text>
<text class="ct" x="57" y="620">54.3035</text>
<g shape-rendering="crispEdges">
<rect x="1677" y="78" width="2" height="1" fill="#000"/>
<rect x="1677" y="127" width="2" height="1" fill="#000"/>
<rect x="1677" y="176" width="2" height="1" fill="#000"/>
<rect x="1677" y="225" width="2" height="1" fill="#000"/>
<rect x="1677" y="274" width="2" height="1" fill="#000"/>
<rect x="1677" y="323" width="2" height="1" fill="#000"/>
<rect x="1677" y="372" width="2" height="1" fill="#000"/>
<rect x="1677" y="421" width="2" height="1" fill="#000"/>
<rect x="1677" y="470" width="2" height="1" fill="#000"/>
<rect x="1677" y="519" width="2" height="1" fill="#000"/>
<rect x="1677" y="583" width="2" height="1" fill="#000"/>
<rect x="1677" y="644" width="2" height="1" fill="#000"/>
<rect x="1677" y="694" width="2" height="1" fill="#000"/>
<rect x="1677" y="541" width="2" height="1" fill="#000"/>
<rect x="1677" y="601" width="2" height="1" fill="#000"/>
<rect x="1677" y="606" width="2" height="1" fill="#000"/>
<rect x="1677" y="732" width="2" height="1" fill="#000"/>
</g>
<text class="ax" x="1683" y="83">71.530</text>
<text class="ax" x="1683" y="132">70.705</text>
<text class="ax" x="1683" y="181">69.880</text>
<text class="ax" x="1683" y="230">69.055</text>
<text class="ax" x="1683" y="279">68.230</text>
<text class="ax" x="1683" y="328">67.405</text>
<text class="ax" x="1683" y="377">66.580</text>
<text class="ax" x="1683" y="426">65.755</text>
<text class="ax" x="1683" y="475">64.930</text>
<text class="ax" x="1683" y="524">64.105</text>
<text class="ax" x="1681" y="554">0.6128</text>
<text class="ax" x="1681" y="588">0.00</text>
<text class="ax" x="1681" y="599">-0.2821</text>
<text class="ax" x="1681" y="618">100</text>
<text class="ax" x="1681" y="649">70</text>
<text class="ax" x="1681" y="699">30</text>
<text class="ax" x="1681" y="730">0</text>
<g shape-rendering="crispEdges">
<rect x="1678" y="44" width="49" height="14" fill="#FF0000"/>
<rect x="1678" y="106" width="49" height="14" fill="#000000"/>
<rect x="1678" y="163" width="49" height="14" fill="#00FF7F"/>
<rect x="1678" y="250" width="49" height="14" fill="#0000FF"/>
</g>
<text class="ax w" x="1682.8" y="56">72.000</text>
<text class="ax w" x="1682.8" y="118">70.930</text>
<text class="ax w" x="1682.8" y="175">70.000</text>
<text class="ax w" x="1682.8" y="262">68.533</text>
<g shape-rendering="crispEdges">
<rect x="7" y="734" width="1" height="3" fill="#000"/>
<rect x="103" y="734" width="1" height="3" fill="#000"/>
<rect x="199" y="734" width="1" height="3" fill="#000"/>
<rect x="295" y="734" width="1" height="3" fill="#000"/>
<rect x="391" y="734" width="1" height="3" fill="#000"/>
<rect x="487" y="734" width="1" height="3" fill="#000"/>
<rect x="583" y="734" width="1" height="3" fill="#000"/>
<rect x="679" y="734" width="1" height="3" fill="#000"/>
<rect x="775" y="734" width="1" height="3" fill="#000"/>
<rect x="871" y="734" width="1" height="3" fill="#000"/>
<rect x="967" y="734" width="1" height="3" fill="#000"/>
<rect x="1063" y="734" width="1" height="3" fill="#000"/>
<rect x="1159" y="734" width="1" height="3" fill="#000"/>
<rect x="1255" y="734" width="1" height="3" fill="#000"/>
</g>
<text class="ax" x="5.4" y="749" style="letter-spacing:-0.08px">5 Mar 2019</text>
<text class="ax" x="101.4" y="749" style="letter-spacing:-0.08px">7 Mar 21:00</text>
<text class="ax" x="197.4" y="749" style="letter-spacing:-0.08px">11 Mar 16:00</text>
<text class="ax" x="293.4" y="749" style="letter-spacing:-0.08px">13 Mar 16:00</text>
<text class="ax" x="389.4" y="749" style="letter-spacing:-0.08px">15 Mar 16:00</text>
<text class="ax" x="485.4" y="749" style="letter-spacing:-0.08px">19 Mar 12:00</text>
<text class="ax" x="581.4" y="749" style="letter-spacing:-0.08px">21 Mar 12:00</text>
<text class="ax" x="677.4" y="749" style="letter-spacing:-0.08px">25 Mar 08:00</text>
<text class="ax" x="773.4" y="749" style="letter-spacing:-0.08px">27 Mar 12:00</text>
<text class="ax" x="869.4" y="749" style="letter-spacing:-0.08px">29 Mar 12:00</text>
<text class="ax" x="965.4" y="749">2 Apr 08:00</text>
<text class="ax" x="1061.4" y="749">4 Apr 08:00</text>
<text class="ax" x="1157.4" y="749">8 Apr 04:00</text>
<text class="ax" x="1253.4" y="749">10 Apr 04:00</text>
<text class="cn" x="1118.5" y="424.5">多空转折点</text>
<text class="cn" x="1370.5" y="424.5" textLength="59" lengthAdjust="spacingAndGlyphs">70</text>
<g shape-rendering="crispEdges">
<rect x="10" y="63" width="283" height="76" fill="#ffffff"/>
<rect x="10" y="63" width="68" height="28" fill="url(#gTab)"/>
<rect x="225" y="63" width="68" height="28" fill="url(#gTab)"/>
<rect x="10" y="90" width="141" height="49" fill="url(#gPrc)"/>
<rect x="153" y="90" width="140" height="49" fill="url(#gPrc)"/>
<rect x="10" y="63" width="68" height="1" fill="#d83c3c"/>
<rect x="225" y="63" width="68" height="1" fill="#d83c3c"/>
<rect x="14" y="90" width="60" height="1" fill="#f59a9a"/>
<rect x="229" y="90" width="60" height="1" fill="#f59a9a"/>
<rect x="80" y="63" width="143" height="26" fill="#ffffff"/>
<rect x="80.5" y="63.5" width="142" height="25" fill="none" stroke="#a9a9b4" stroke-width="1"/>
<rect x="82" y="65" width="22" height="22" fill="url(#gBtn)"/>
<rect x="81.5" y="64.5" width="23" height="23" fill="none" stroke="#b8b8c2" stroke-width="1"/>
<rect x="199" y="65" width="22" height="22" fill="url(#gBtn)"/>
<rect x="198.5" y="64.5" width="23" height="23" fill="none" stroke="#b8b8c2" stroke-width="1"/>
<path d="M88.5 74 L96.5 74 L92.5 78.5 Z" fill="#5a6cc4" shape-rendering="geometricPrecision"/>
<path d="M206 77.5 L214 77.5 L210 73 Z" fill="#5a6cc4" shape-rendering="geometricPrecision"/>
</g>
<text x="27" y="82" textLength="33" lengthAdjust="spacingAndGlyphs" style="font-size:14.5px;fill:#fff">SELL</text>
<text x="244" y="82" textLength="29" lengthAdjust="spacingAndGlyphs" style="font-size:14.5px;fill:#fff">BUY</text>
<text x="195" y="81.5" text-anchor="end" style="font-size:15.8px;fill:#000">1.00</text>
<text x="48.4" y="128.3" style="font-size:16.3px;font-weight:bold;fill:#fff">70</text>
<text x="70.5" y="128.3" style="font-size:41px;fill:#fff" textLength="45" lengthAdjust="spacingAndGlyphs">93</text>
<text x="119.6" y="110.3" style="font-size:15.5px;font-weight:bold;fill:#fff" textLength="10" lengthAdjust="spacingAndGlyphs">0</text>
<text x="190.9" y="128.3" style="font-size:16.3px;font-weight:bold;fill:#fff">71</text>
<text x="213.0" y="128.3" style="font-size:41px;fill:#fff" textLength="45" lengthAdjust="spacingAndGlyphs">02</text>
<text x="262.1" y="110.3" style="font-size:15.5px;font-weight:bold;fill:#fff" textLength="10" lengthAdjust="spacingAndGlyphs">0</text>
</svg></body></html>
